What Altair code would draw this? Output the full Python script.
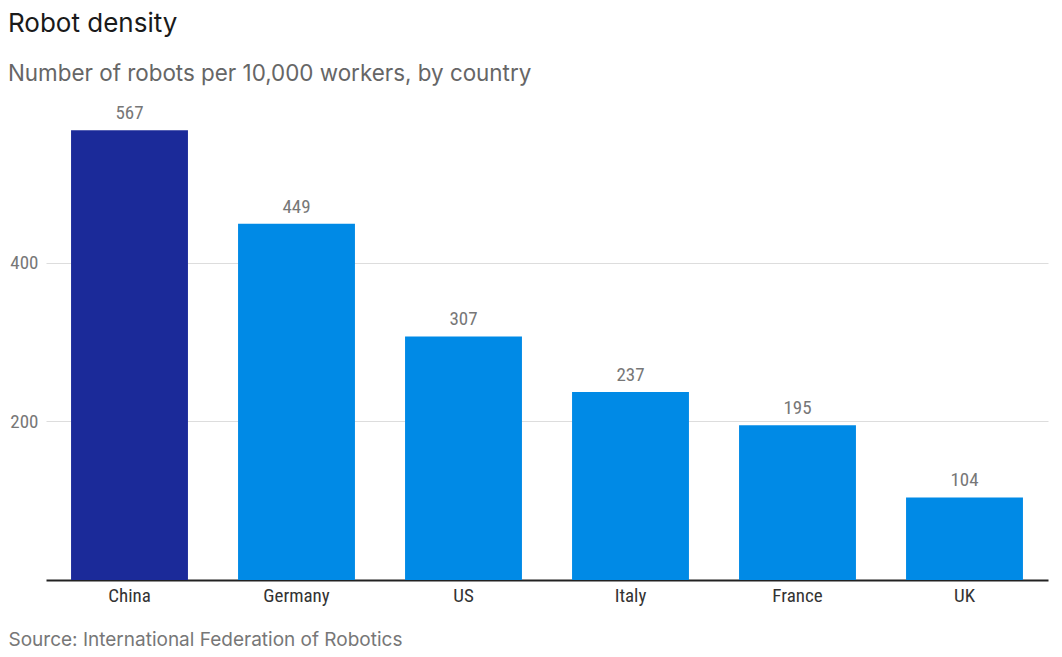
import altair as alt
import pandas as pd

countries = ["China", "Germany", "US", "Italy", "France", "UK"]
values = [567, 449, 307, 237, 195, 104]
highlight = ["China", "Other", "Other", "Other", "Other", "Other"]
y_ticks = [200, 400]

df = pd.DataFrame({"country": countries, "value": values, "group": highlight})

COND = "Roboto Condensed, Liberation Sans Narrow, DejaVu Sans Condensed, Roboto, sans-serif"
SANS = "Inter, Lato, Roboto, sans-serif"

x = alt.X(
    "country:N",
    sort=countries,
    scale=alt.Scale(paddingInner=0.3, paddingOuter=0.15),
    axis=alt.Axis(
        title="Source: International Federation of Robotics",
        titleFont=SANS,
        titleFontSize=19,
        titleFontWeight="normal",
        titleColor="#777777",
        titleAnchor="start",
        titleAlign="left",
        titleBaseline="alphabetic",
        titleX=-38,
        titleY=65,
        labelFont=COND,
        labelFontSize=19,
        labelColor="#333333",
        labelPadding=6,
        labelAngle=0,
        ticks=False,
        domainColor="#222222",
        domainWidth=2,
    ),
)
y = alt.Y(
    "value:Q",
    scale=alt.Scale(domain=[0, 600], nice=False),
    axis=alt.Axis(
        title=None,
        values=y_ticks,
        labelFont=COND,
        labelFontSize=19,
        labelColor="#777777",
        labelPadding=8,
        ticks=False,
        domain=False,
        gridColor="#dddddd",
        gridWidth=1,
    ),
)

bars = alt.Chart(df).mark_bar().encode(
    x=x,
    y=y,
    color=alt.Color(
        "group:N",
        scale=alt.Scale(domain=["China", "Other"], range=["#1b2a99", "#008ae6"]),
        legend=None,
    ),
)

labels = alt.Chart(df).mark_text(
    baseline="bottom", dy=-7, font=COND, fontSize=19, color="#777777"
).encode(x=alt.X("country:N", sort=countries), y="value:Q", text="value:Q")

chart = (
    alt.layer(bars, labels)
    .properties(
        width=1002,
        height=476,
        autosize=alt.AutoSizeParams(type="none"),
        padding={"left": 38, "top": 96, "right": 6, "bottom": 72},
        title=alt.TitleParams(
            text="Robot density",
            subtitle="Number of robots per 10,000 workers, by country",
            anchor="start",
            frame="group",
            dx=-38,
            font=SANS,
            fontSize=26,
            fontWeight="normal",
            color="#1a1a1a",
            subtitleFont=SANS,
            subtitleFontSize=22.4,
            subtitleColor="#666666",
            subtitlePadding=26,
            offset=19,
        ),
    )
    .configure_view(stroke=None)
)

chart.save("out.html", embed_options={"renderer": "svg", "actions": False})
